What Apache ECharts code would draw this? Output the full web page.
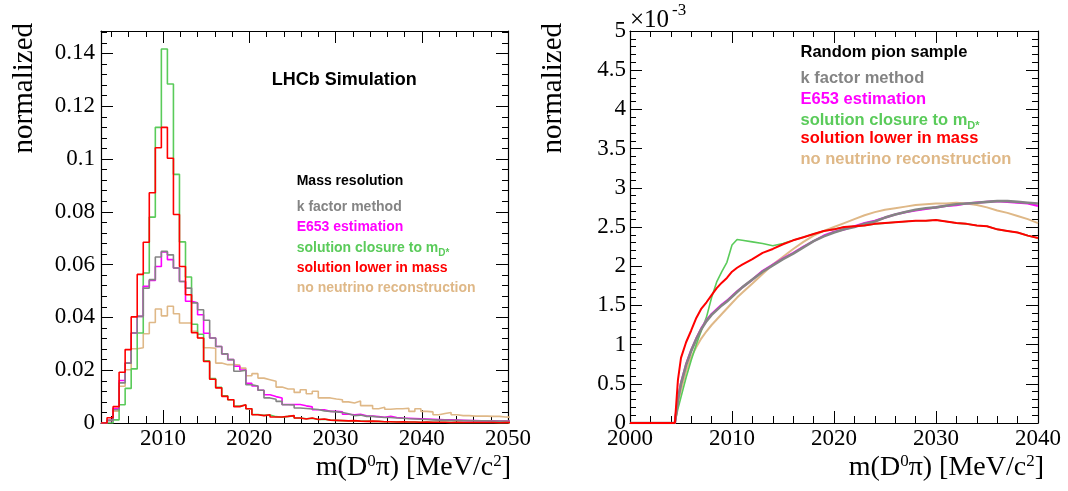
<!DOCTYPE html>
<html>
<head>
<meta charset="utf-8">
<script src="https://cdn.jsdelivr.net/npm/echarts@6/dist/echarts.min.js"></script>
<style>
  html, body { margin: 0; padding: 0; background: #fff; }
  #chart { width: 1068px; height: 491px; }
</style>
</head>
<body>
<div id="chart"></div>
<script>
// ---- Mass resolution histograms (bin width 0.7 MeV starting at 2002.8 MeV) ----
const binStart = 2002.8;
const binWidth = 0.7;

const resKFactor = [0, 0.001, 0.005, 0.0152, 0.0227, 0.0341, 0.0404, 0.0511, 0.0543, 0.0629,
  0.0650, 0.0637, 0.0587, 0.0536, 0.0511, 0.0455, 0.0429, 0.0389, 0.0322, 0.0290,
  0.0262, 0.0240, 0.0196, 0.0200, 0.0145, 0.0140, 0.0124, 0.0095, 0.0090, 0.0082,
  0.0069, 0.0068, 0.0057, 0.0055, 0.0053, 0.0051, 0.0046, 0.0044, 0.0042, 0.0040,
  0.0035, 0.0028, 0.0030, 0.0025, 0.0025, 0.0023, 0.0021, 0.0021, 0.0019, 0.0018,
  0.0016, 0.0015, 0.0014, 0.0013, 0.0012, 0.0011, 0.0011, 0.0010, 0.0010, 0.0009,
  0.0009, 0.0008, 0.0008, 0.0008, 0.0007, 0.0007, 0.0007, 0.0006];

const resE653 = [0, 0.001, 0.0055, 0.0161, 0.0227, 0.0341, 0.0404, 0.0518, 0.0540, 0.0593,
  0.0648, 0.0619, 0.0587, 0.0536, 0.0461, 0.0455, 0.0410, 0.0340, 0.0322, 0.0290,
  0.0262, 0.0240, 0.0215, 0.0201, 0.0150, 0.0140, 0.0124, 0.0107, 0.0100, 0.0095,
  0.0070, 0.0070, 0.0070, 0.0065, 0.0061, 0.0050, 0.0050, 0.0044, 0.0044, 0.0042,
  0.0033, 0.0031, 0.0033, 0.0027, 0.0026, 0.0024, 0.0022, 0.0025, 0.0021, 0.0019,
  0.0018, 0.0017, 0.0016, 0.0015, 0.0014, 0.0013, 0.0012, 0.0012, 0.0011, 0.0010,
  0.0009, 0.0009, 0.0008, 0.0008, 0.0008, 0.0007, 0.0007, 0.0007];

const resClosure = [0, 0, 0.0012, 0.0069, 0.0131, 0.0205, 0.0341, 0.0568, 0.0780, 0.1120,
  0.1417, 0.1284, 0.0942, 0.0686, 0.0553, 0.0374, 0.0336, 0.0236, 0.0168, 0.0135,
  0.0103, 0.0088, 0.0064, 0.0068, 0.0054, 0.0032, 0.0029, 0.0030, 0.0024, 0.0022,
  0.0025, 0.0027, 0.0019, 0.0016, 0.0018, 0.0013, 0.0014, 0.0011, 0.0010, 0.0009,
  0.0008, 0.0008, 0.0007, 0.0007, 0.0006, 0.0006, 0.0005, 0.0005, 0.0005, 0.0004,
  0.0004, 0.0004, 0.0003, 0.0004, 0.0003, 0.0003, 0.0003, 0.0002, 0.0003, 0.0002,
  0.0002, 0.0002, 0.0002, 0.0002, 0.0002, 0.0001, 0.0002, 0.0001];

const resLower = [0, 0.002, 0.0062, 0.0192, 0.0278, 0.0402, 0.0563, 0.0685, 0.0872, 0.1043,
  0.1120, 0.1003, 0.0790, 0.0593, 0.0486, 0.0342, 0.0322, 0.0233, 0.0166, 0.0133,
  0.0101, 0.0088, 0.0062, 0.0069, 0.0054, 0.0031, 0.0028, 0.0031, 0.0023, 0.0023,
  0.0025, 0.0028, 0.0019, 0.0015, 0.0019, 0.0013, 0.0015, 0.0011, 0.0010, 0.0009,
  0.0008, 0.0009, 0.0007, 0.0006, 0.0007, 0.0006, 0.0005, 0.0005, 0.0004, 0.0005,
  0.0004, 0.0004, 0.0003, 0.0004, 0.0003, 0.0003, 0.0003, 0.0002, 0.0003, 0.0002,
  0.0002, 0.0002, 0.0002, 0.0002, 0.0002, 0.0001, 0.0002, 0.0001];

const resNoNeutrino = [0, 0.001, 0.0045, 0.0139, 0.0202, 0.0281, 0.0285, 0.0338, 0.0381, 0.0432,
  0.0406, 0.0442, 0.0414, 0.0379, 0.0379, 0.0347, 0.0322, 0.0285, 0.0283, 0.0227,
  0.0221, 0.0221, 0.0220, 0.0208, 0.0179, 0.0187, 0.0170, 0.0164, 0.0158, 0.0136,
  0.0129, 0.0129, 0.0116, 0.0126, 0.0111, 0.0120, 0.0095, 0.0095, 0.0091, 0.0088,
  0.0080, 0.0076, 0.0083, 0.0066, 0.0066, 0.0054, 0.0060, 0.0052, 0.0054, 0.0054,
  0.0056, 0.0044, 0.0054, 0.0044, 0.0042, 0.0031, 0.0036, 0.0040, 0.0031, 0.0028,
  0.0028, 0.0026, 0.0026, 0.0026, 0.0025, 0.0025, 0.0023, 0.0022];

// ---- Random pion sample (values in units of 1e-3) ----
const pionMass = [2000, 2004.4, 2004.7, 2005, 2005.5, 2006, 2006.5, 2007, 2007.5, 2008,
  2008.5, 2009, 2009.5, 2010, 2010.5, 2011, 2012, 2013, 2014, 2015,
  2016, 2017, 2018, 2019, 2020, 2021, 2022, 2023, 2024, 2025,
  2026, 2027, 2028, 2029, 2030, 2031, 2032, 2033, 2034, 2035,
  2036, 2037, 2038, 2039, 2040];

const pionKFactor = [0, 0, 0.30, 0.50, 0.74, 0.92, 1.07, 1.20, 1.30, 1.38,
  1.44, 1.50, 1.55, 1.61, 1.67, 1.73, 1.83, 1.93, 2.01, 2.09,
  2.16, 2.24, 2.32, 2.38, 2.43, 2.47, 2.50, 2.54, 2.57, 2.62,
  2.66, 2.69, 2.72, 2.74, 2.75, 2.77, 2.79, 2.80, 2.81, 2.82,
  2.83, 2.83, 2.82, 2.81, 2.80];

const pionE653 = [0, 0, 0.31, 0.51, 0.75, 0.93, 1.08, 1.21, 1.31, 1.39,
  1.45, 1.51, 1.56, 1.62, 1.68, 1.73, 1.83, 1.94, 2.02, 2.10,
  2.17, 2.25, 2.32, 2.39, 2.44, 2.47, 2.51, 2.55, 2.58, 2.62,
  2.66, 2.69, 2.71, 2.73, 2.75, 2.77, 2.78, 2.80, 2.81, 2.82,
  2.83, 2.82, 2.81, 2.80, 2.77];

const pionClosure = [0, 0, 0.18, 0.33, 0.58, 0.80, 1.00, 1.18, 1.35, 1.60,
  1.80, 1.93, 2.05, 2.27, 2.34, 2.33, 2.31, 2.29, 2.26, 2.29,
  2.33, 2.37, 2.41, 2.45, 2.47, 2.50, 2.51, 2.52, 2.54, 2.55,
  2.56, 2.57, 2.58, 2.58, 2.59, 2.57, 2.55, 2.54, 2.52, 2.51,
  2.47, 2.45, 2.43, 2.39, 2.36];

const pionLower = [0, 0, 0.55, 0.83, 1.03, 1.18, 1.34, 1.46, 1.54, 1.63,
  1.72, 1.79, 1.85, 1.93, 1.98, 2.02, 2.09, 2.17, 2.22, 2.28,
  2.33, 2.37, 2.41, 2.45, 2.47, 2.50, 2.51, 2.52, 2.54, 2.55,
  2.56, 2.57, 2.58, 2.58, 2.59, 2.57, 2.55, 2.54, 2.52, 2.51,
  2.47, 2.45, 2.43, 2.39, 2.36];

const pionNoNeutrino = [0, 0, 0.25, 0.42, 0.66, 0.84, 0.97, 1.08, 1.17, 1.25,
  1.32, 1.39, 1.46, 1.53, 1.60, 1.66, 1.78, 1.90, 2.02, 2.12,
  2.22, 2.31, 2.39, 2.45, 2.50, 2.55, 2.60, 2.65, 2.69, 2.72,
  2.74, 2.76, 2.78, 2.79, 2.80, 2.80, 2.81, 2.80, 2.78, 2.75,
  2.71, 2.68, 2.64, 2.60, 2.55];

// ---- Axis tick labels ----
const resXTicks = [2010, 2020, 2030, 2040, 2050];
const resYTicks = [0, 0.02, 0.04, 0.06, 0.08, 0.1, 0.12, 0.14];
const pionXTicks = [2000, 2010, 2020, 2030, 2040];
const pionYTicks = [0, 0.5, 1, 1.5, 2, 2.5, 3, 3.5, 4, 4.5, 5];

const colors = {
  kFactor: '#848484',
  e653: '#ff00ff',
  closure: '#5acb5a',
  lower: '#ff0000',
  noNeutrino: '#dfb887'
};

const SERIF = 'Liberation Serif';
const SANS = 'Liberation Sans';

// minor tick positions between major ticks
function minorTicks(from, to, step, majorStep) {
  const out = [];
  const n = Math.round((to - from) / step);
  for (let i = 0; i <= n; i++) {
    const v = +(from + i * step).toFixed(6);
    const r = v / majorStep;
    if (Math.abs(r - Math.round(r)) > 1e-6) out.push(v);
  }
  return out;
}

const resXMinor = minorTicks(2004, 2050, 2, 10);
const resYMinor = minorTicks(0.004, 0.148, 0.004, 0.02);
const pionXMinor = minorTicks(2002, 2040, 2, 10);
const pionYMinor = minorTicks(0.1, 5, 0.1, 0.5);

function axis(grid, min, max, position, ticks, len, withLabels, withLine, isX) {
  return {
    type: 'value', gridIndex: grid, min: min, max: max, position: position,
    axisLine: { show: withLine, onZero: false, lineStyle: { color: '#000', width: 1.2 } },
    axisTick: { show: true, inside: true, length: len, customValues: ticks,
      lineStyle: { color: '#000', width: 1 } },
    axisLabel: withLabels ? {
      show: true, customValues: ticks, fontFamily: SERIF, fontSize: 23, color: '#000',
      margin: isX ? 4 : 6,
      formatter: function (v) { return String(v); }
    } : { show: false },
    splitLine: { show: false },
    minorTick: { show: false }
  };
}

const xAxes = [
  axis(0, 2002.8, 2050, 'bottom', resXTicks, 13, true, true, true),
  axis(0, 2002.8, 2050, 'bottom', resXMinor, 7, false, false, true),
  axis(0, 2002.8, 2050, 'top', resXTicks, 12, false, true, true),
  axis(0, 2002.8, 2050, 'top', resXMinor, 6, false, false, true),
  axis(1, 2000, 2040, 'bottom', pionXTicks, 12, true, true, true),
  axis(1, 2000, 2040, 'bottom', pionXMinor, 7, false, false, true),
  axis(1, 2000, 2040, 'top', pionXTicks, 12, false, true, true),
  axis(1, 2000, 2040, 'top', pionXMinor, 6, false, false, true)
];

const yAxes = [
  axis(0, 0, 0.1485, 'left', resYTicks, 12, true, true, false),
  axis(0, 0, 0.1485, 'left', resYMinor, 6, false, false, false),
  axis(0, 0, 0.1485, 'right', resYTicks, 12, false, true, false),
  axis(0, 0, 0.1485, 'right', resYMinor, 6, false, false, false),
  axis(1, 0, 5, 'left', pionYTicks, 12, true, true, false),
  axis(1, 0, 5, 'left', pionYMinor, 6, false, false, false),
  axis(1, 0, 5, 'right', pionYTicks, 12, false, true, false),
  axis(1, 0, 5, 'right', pionYMinor, 6, false, false, false)
];
yAxes[4].axisLabel.margin = 4;

// histogram as stepped outline through the bin edges
function histPoints(vals) {
  const pts = vals.map((v, k) => [+(binStart + k * binWidth).toFixed(4), v]);
  pts.push([+(binStart + vals.length * binWidth).toFixed(4), vals[vals.length - 1]]);
  return pts;
}

function histSeries(name, vals, color, z) {
  return {
    name: name, type: 'line', xAxisIndex: 0, yAxisIndex: 0, step: 'end',
    data: histPoints(vals), symbol: 'none', z: z,
    lineStyle: { color: color, width: 1.6 }
  };
}

function pionSeries(name, vals, color, width, z) {
  return {
    name: name, type: 'line', xAxisIndex: 4, yAxisIndex: 4,
    data: pionMass.map((m, i) => [m, vals[i]]), symbol: 'none', z: z,
    lineStyle: { color: color, width: width }
  };
}

const series = [
  histSeries('no neutrino reconstruction', resNoNeutrino, colors.noNeutrino, 2),
  histSeries('solution closure to mD*', resClosure, colors.closure, 3),
  histSeries('E653 estimation', resE653, colors.e653, 4),
  histSeries('k factor method', resKFactor, colors.kFactor, 5),
  histSeries('solution lower in mass', resLower, colors.lower, 6),
  pionSeries('no neutrino reconstruction', pionNoNeutrino, colors.noNeutrino, 2, 2),
  pionSeries('solution closure to mD*', pionClosure, colors.closure, 1.6, 3),
  pionSeries('E653 estimation', pionE653, colors.e653, 2.2, 4),
  pionSeries('k factor method', pionKFactor, colors.kFactor, 2.6, 5),
  pionSeries('solution lower in mass', pionLower, colors.lower, 2, 6)
];

function label(x, y, text, color, size) {
  return { type: 'text', x: x, y: y, z: 100,
    style: { text: text, fill: color, font: 'bold ' + size + 'px ' + SANS,
      textAlign: 'left', textVerticalAlign: 'middle' } };
}

function subLabel(x, y, main, sub, color, size) {
  return { type: 'text', x: x, y: y, z: 100,
    style: {
      text: '{m|' + main + '}{s|' + sub + '}',
      textAlign: 'left', textVerticalAlign: 'middle',
      rich: {
        m: { fill: color, fontFamily: SANS, fontWeight: 'bold', fontSize: size,
          lineHeight: size + 6, verticalAlign: 'middle' },
        s: { fill: color, fontFamily: SANS, fontWeight: 'bold', fontSize: Math.round(size * 0.68),
          lineHeight: Math.round(size * 0.7), verticalAlign: 'bottom' }
      }
    } };
}

function massTitle(xRight, y) {
  return { type: 'text', x: xRight, y: y, z: 100,
    style: {
      text: '{t|m(D}{s|0}{t|\u03c0) [MeV/c}{s|2}{t|]}',
      textAlign: 'right', textVerticalAlign: 'middle',
      rich: {
        t: { fill: '#000', fontFamily: SERIF, fontSize: 28, lineHeight: 30, verticalAlign: 'middle' },
        s: { fill: '#000', fontFamily: SERIF, fontSize: 17, lineHeight: 17, verticalAlign: 'top' }
      }
    } };
}

function yTitle(x, yTop) {
  return { type: 'text', x: x, y: yTop, rotation: Math.PI / 2, z: 100,
    style: { text: 'normalized', fill: '#000', font: '29px ' + SERIF,
      textAlign: 'right', textVerticalAlign: 'middle' } };
}

const graphics = [
  yTitle(24.4, 23),
  yTitle(553.4, 23),
  massTitle(511, 468),
  massTitle(1044, 468),
  { type: 'text', x: 630, y: 20, z: 100,
    style: { text: '\u00d710', fill: '#000', font: '25px ' + SERIF, textAlign: 'left', textVerticalAlign: 'middle' } },
  { type: 'text', x: 672, y: 11, z: 100,
    style: { text: '-3', fill: '#000', font: '17px ' + SERIF, textAlign: 'left', textVerticalAlign: 'middle' } },

  label(271.7, 80, 'LHCb Simulation', '#000', 18),
  label(296.7, 181, 'Mass resolution', '#000', 14),
  label(296.7, 207, 'k factor method', colors.kFactor, 14),
  label(296.7, 227, 'E653 estimation', colors.e653, 14),
  subLabel(296.7, 248.5, 'solution closure to m', 'D*', colors.closure, 14),
  label(296.7, 268, 'solution lower in mass', colors.lower, 14),
  label(296.7, 288, 'no neutrino reconstruction', colors.noNeutrino, 14),

  label(800.5, 52, 'Random pion sample', '#000', 16.5),
  label(800.5, 78, 'k factor method', colors.kFactor, 16.5),
  label(800.5, 99, 'E653 estimation', colors.e653, 16.5),
  subLabel(800.5, 120.5, 'solution closure to m', 'D*', colors.closure, 16.5),
  label(800.5, 138.5, 'solution lower in mass', colors.lower, 16.5),
  label(800.5, 159, 'no neutrino reconstruction', colors.noNeutrino, 16.5)
];

const chart = echarts.init(document.getElementById('chart'), null, { renderer: 'canvas' });
chart.setOption({
  animation: false,
  backgroundColor: '#fff',
  grid: [
    { left: 101, top: 31, width: 407, height: 392, containLabel: false },
    { left: 630, top: 31, width: 408, height: 392, containLabel: false }
  ],
  xAxis: xAxes,
  yAxis: yAxes,
  series: series,
  graphic: graphics
});
</script>
</body>
</html>
